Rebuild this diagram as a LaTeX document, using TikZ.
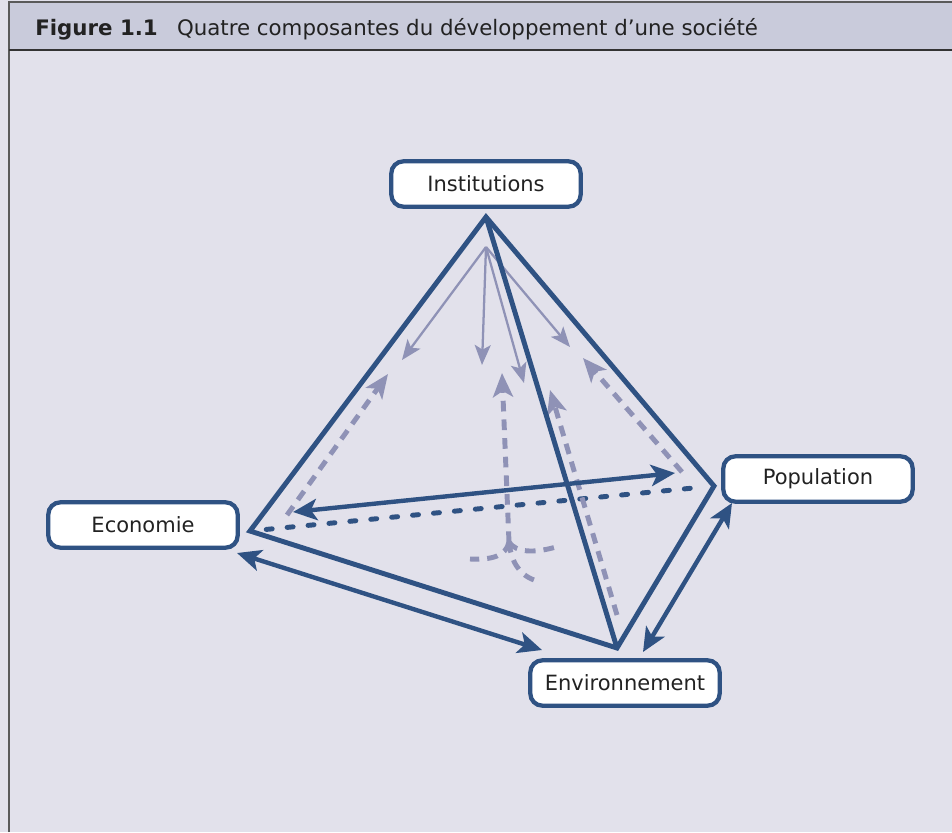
\documentclass[tikz,border=0pt]{standalone}
\usepackage{fontspec}
\setmainfont{DejaVu Sans}
\usetikzlibrary{arrows.meta,calc}
\definecolor{dblue}{HTML}{2F5283}
\definecolor{lav}{HTML}{8F92B6}
\definecolor{bodybg}{HTML}{E2E1EB}
\definecolor{headbg}{HTML}{C9CBDB}
\definecolor{framegray}{HTML}{5A5A5A}
\definecolor{framedark}{HTML}{333333}
\definecolor{txt}{HTML}{222222}
\tikzset{
  compbox/.style={draw=dblue, line width=3.2pt, fill=white, rounded corners=9pt,
    minimum width=142pt, minimum height=34pt, inner sep=0pt,
    font=\fontsize{15.75}{18}\selectfont, text=txt},
  edge/.style={draw=dblue, line width=3.7pt, line join=miter},
  hidden/.style={draw=dblue, line width=3.7pt, line cap=round, dash pattern=on 4.5pt off 11.25pt},
  dblarrow/.style={draw=dblue, line width=3.3pt,
    {Stealth[length=18pt,width=16pt,inset=4.5pt]}-{Stealth[length=18pt,width=16pt,inset=4.5pt]}},
  thinarr/.style={draw=lav, line width=1.7pt, -{Stealth[length=15pt,width=12pt,inset=3.5pt]}},
  dasharr/.style={draw=lav, line width=3.7pt, dash pattern=on 8pt off 6pt,
    -{Stealth[length=18pt,width=15pt,inset=4.5pt]}},
  dashcurve/.style={draw=lav, line width=3.7pt, dash pattern=on 8pt off 6pt}
}
\begin{document}
\begin{tikzpicture}[x=0.75pt,y=-0.75pt]
\useasboundingbox (0,0) rectangle (952,832);
\fill[bodybg] (0,0) rectangle (952,832);
\fill[headbg] (9,2) rectangle (952,50);
\draw[framegray, line width=1.5pt] (9,832) -- (9,2) -- (952,2);
\draw[framedark, line width=2pt] (9,50) -- (952,50);
\node[anchor=base west, inner sep=0pt, font=\fontsize{16}{19}\selectfont, text=txt] (title) at (35,35)
  {\textbf{Figure 1.1}\hspace{0.9em}Quatre composantes du développement d’une société};

% component boxes
\node[compbox] (inst) at (486,184) {Institutions};
\node[compbox] (eco) at (143,525) {Economie};
\node[compbox] (pop) at (818,479) {Population};
\node[compbox] (env) at (625,683) {Environnement};

% tetrahedron vertices
\coordinate (A) at (486,217);
\coordinate (E) at (250,531);
\coordinate (P) at (714,486);
\coordinate (V) at (617,648);

% hidden edge
\draw[hidden] ($(E)!0.035!(P)$) -- ($(P)!0.02!(E)$);

% light arrows from the apex
\coordinate (O) at (486,247);
\coordinate (t1) at (402,360);
\coordinate (t2) at (482,365);
\coordinate (t3) at (524,383);
\coordinate (t4) at (570,347);
\draw[thinarr] (O) -- (t1);
\draw[thinarr] (O) -- (t2);
\draw[thinarr] (O) -- (t3);
\draw[thinarr] (O) -- (t4);

% dashed light arrows pointing up
\coordinate (l1s) at (287,515);
\coordinate (l1e) at (388,374);
\coordinate (J) at (509,542);
\coordinate (mEnd) at (502,373);
\coordinate (r1s) at (617,615);
\coordinate (r1e) at (550,390);
\coordinate (r2s) at (682,472);
\coordinate (r2e) at (583,358);
\draw[dasharr] (l1s) -- (l1e);
\draw[dasharr] (J) -- (mEnd);
\draw[dasharr] (r1s) -- (r1e);
\draw[dasharr] (r2s) -- (r2e);
\coordinate (c1) at (470,559);
\coordinate (c2) at (556,547);
\coordinate (c3) at (534,580);
\draw[dashcurve] (J) .. controls (506,556) and (492,560) .. (c1);
\draw[dashcurve] (J) .. controls (516,553) and (535,553) .. (c2);
\draw[dashcurve] (J) .. controls (511,560) and (518,574) .. (c3);

% solid edges
\draw[edge] (E) -- (A) -- (P) -- (V) -- cycle;
\draw[edge] (A) -- (V);

% double arrows
\coordinate (d1a) at (293,512);
\coordinate (d1b) at (675,473);
\coordinate (d2a) at (237,553);
\coordinate (d2b) at (542,650);
\coordinate (d3a) at (732,503);
\coordinate (d3b) at (643,652);
\draw[dblarrow] (d1a) -- (d1b);
\draw[dblarrow] (d2a) -- (d2b);
\draw[dblarrow] (d3a) -- (d3b);
\end{tikzpicture}
\end{document}
